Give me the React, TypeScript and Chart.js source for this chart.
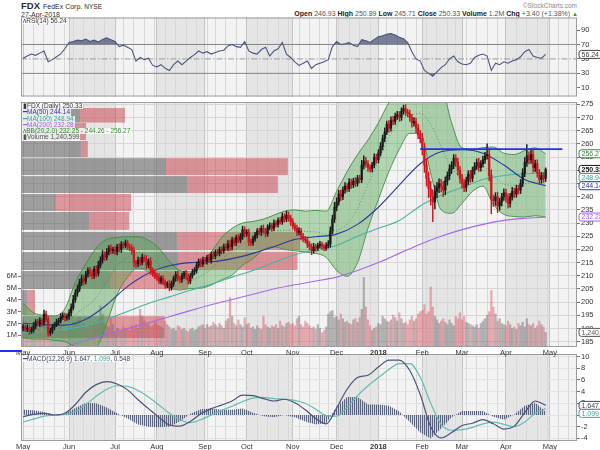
import React, { useEffect, useRef } from 'react';
import { Chart, registerables } from 'chart.js';

Chart.register(...registerables);

const FONT = '"Liberation Sans", Arial, Helvetica, sans-serif';
const AXIS_COLOR = '#333333';

// ---------------- data ----------------
const firstOpen = 190.2;
const closes = [
  // May 2017
  190.5, 189.8, 190.2, 189.0, 189.5, 191.0, 192.5, 191.8, 193.0, 192.0, 195.5, 193.5, 188.5, 189.0, 190.5, 191.5, 192.5, 193.0, 194.5, 195.0, 194.0, 194.5,
  // Jun
  196.0, 198.0, 201.0, 203.5, 205.0, 207.5, 209.0, 208.0, 210.5, 212.0, 211.0, 210.0, 212.5, 211.0, 214.0, 216.0, 218.0, 217.0, 219.0, 220.5, 219.5, 220.0,
  // Jul
  219.0, 221.0, 220.0, 222.0, 221.5, 222.5, 221.0, 220.5, 219.5, 215.0, 214.5, 216.0, 215.0, 217.0, 216.5, 214.0, 215.5, 212.0, 211.0, 210.0,
  // Aug
  209.5, 208.0, 209.0, 207.5, 206.5, 207.0, 205.5, 207.0, 209.0, 210.5, 209.0, 208.5, 210.0, 211.0, 209.5, 208.0, 210.0, 211.5, 212.0, 214.0, 215.5, 214.5, 216.0,
  // Sep
  215.5, 217.0, 216.0, 218.0, 217.5, 219.0, 218.5, 220.0, 219.5, 221.0, 220.5, 222.0, 221.0, 223.5, 222.5, 224.5, 223.5, 225.0, 227.5, 226.0,
  // Oct
  226.5, 223.0, 222.5, 224.0, 225.5, 227.0, 226.5, 228.0, 227.0, 226.0, 228.5, 229.0, 228.0, 230.0, 229.5, 231.0, 230.5, 232.5, 231.5, 233.0, 232.0, 230.5,
  // Nov
  229.0, 228.0, 226.5, 227.0, 225.0, 224.0, 223.5, 222.0, 221.0, 219.5, 221.0, 220.5, 221.5, 222.0, 221.0, 220.5, 221.5, 222.0, 227.0, 231.5, 236.0,
  // Dec
  238.0, 241.0, 240.0, 242.5, 244.0, 243.0, 245.5, 244.5, 246.0, 245.0, 247.0, 246.5, 252.0, 253.5, 252.5, 251.0, 250.5, 252.0, 255.0, 254.0,
  // Jan 2018
  256.5, 259.0, 262.0, 264.5, 267.5, 266.0, 269.0, 268.5, 270.5, 271.0, 270.0, 272.5, 273.5, 272.0, 271.5, 270.0, 268.0, 268.5, 266.0, 263.5, 262.0,
  // Feb
  258.0, 252.0, 247.0, 243.0, 240.0, 238.0, 242.0, 243.5, 245.0, 244.0, 242.5, 246.0, 248.0, 250.5, 252.0, 254.5, 253.0, 250.0, 247.0,
  // Mar
  245.0, 243.5, 246.0, 248.5, 247.0, 250.0, 251.5, 253.0, 251.0, 252.5, 254.0, 255.5, 256.0, 248.0, 239.0, 238.5, 240.0, 236.5, 238.0, 240.0, 241.5,
  // Apr
  239.5, 237.5, 240.0, 242.0, 241.0, 243.0, 242.5, 245.0, 249.0, 253.0, 255.5, 254.0, 256.0, 251.0, 252.5, 249.0, 246.5, 248.0, 246.93, 250.33,
];
const wickUp = [
  1.0, 0.8, 1.2, 0.9, 1.1, 1.3, 0.9, 1.0, 1.2, 0.8, 1.5, 1.1, 0.9, 1.2, 1.0, 0.8, 1.1, 0.9, 1.2, 1.0, 0.9, 1.1,
  1.2, 1.4, 1.6, 1.3, 1.5, 1.2, 1.4, 1.1, 1.3, 1.0, 1.2, 1.4, 1.1, 1.3, 1.5, 1.2, 1.6, 1.1, 1.3, 1.0, 1.2, 0.9,
  1.1, 0.9, 1.2, 1.0, 0.8, 1.1, 0.9, 1.0, 1.2, 1.4, 0.9, 1.1, 1.0, 1.2, 0.8, 1.1, 0.9, 1.3, 1.0, 1.2,
  1.0, 1.2, 0.9, 1.1, 1.0, 0.8, 1.2, 1.0, 0.9, 1.1, 1.3, 0.9, 1.0, 0.8, 1.1, 1.2, 0.9, 1.0, 1.1, 1.2, 0.9, 1.0, 1.1,
  1.0, 0.9, 1.1, 1.0, 1.2, 0.8, 1.0, 0.9, 1.1, 1.0, 1.2, 1.4, 1.6, 1.1, 1.0, 0.9, 1.2, 1.0, 1.3, 1.1,
  1.0, 1.2, 0.9, 1.1, 1.0, 0.9, 1.1, 1.0, 1.3, 1.0, 0.9, 1.1, 1.0, 1.2, 0.9, 1.0, 1.1, 1.3, 1.0, 1.5, 1.2, 1.0,
  1.1, 1.0, 1.2, 1.3, 1.0, 1.1, 0.9, 1.2, 1.0, 1.1, 1.3, 1.0, 0.9, 1.1, 0.8, 1.0, 1.1, 1.4, 1.6, 1.5, 1.8,
  1.6, 1.4, 1.5, 1.2, 1.3, 1.1, 1.4, 1.2, 1.0, 1.3, 1.1, 1.2, 1.8, 2.0, 1.4, 1.2, 1.1, 1.0, 1.2, 1.1,
  1.3, 1.5, 1.4, 1.6, 1.2, 1.4, 1.3, 1.5, 1.2, 1.4, 1.3, 1.2, 1.2, 1.4, 1.1, 1.3, 1.2, 1.5, 1.3, 1.4, 1.6,
  2.0, 2.2, 2.5, 2.4, 2.8, 2.6, 2.2, 1.9, 1.8, 1.6, 1.8, 1.5, 1.4, 1.6, 1.3, 1.5, 1.4, 1.6, 1.5,
  1.5, 1.6, 1.4, 1.3, 1.5, 1.2, 1.4, 1.3, 1.5, 1.2, 1.4, 1.3, 4.0, 1.8, 2.2, 1.6, 1.5, 1.7, 1.4, 1.3, 1.5,
  1.4, 1.6, 1.3, 1.5, 1.2, 1.4, 1.3, 1.5, 1.6, 1.8, 4.3, 1.5, 1.8, 1.6, 1.4, 1.5, 1.3, 1.2, 1.1, 0.6,
];
const wickDown = [
  1.1, 0.9, 1.0, 1.2, 0.8, 1.0, 1.1, 0.9, 1.0, 1.2, 0.8, 1.0, 1.5, 1.1, 0.9, 1.0, 0.8, 1.1, 0.9, 1.0, 1.2, 0.9,
  1.0, 1.2, 0.9, 1.1, 1.3, 1.0, 1.2, 1.4, 1.1, 1.0, 1.3, 1.2, 1.0, 1.4, 1.1, 1.0, 1.2, 1.3, 1.0, 1.1, 1.2, 1.0,
  1.0, 1.1, 0.9, 1.2, 1.0, 0.9, 1.1, 1.0, 1.2, 1.6, 1.3, 1.0, 1.2, 0.9, 1.1, 1.3, 1.0, 1.4, 1.2, 1.1,
  1.2, 1.0, 1.1, 0.9, 1.3, 1.0, 1.2, 0.9, 1.0, 1.1, 0.9, 1.2, 1.0, 1.1, 0.9, 1.2, 1.0, 0.9, 1.1, 1.0, 0.8, 1.1, 0.9,
  1.0, 1.1, 0.9, 1.2, 1.0, 1.1, 0.9, 1.0, 1.2, 0.9, 1.0, 1.1, 1.5, 1.2, 1.0, 1.1, 0.9, 1.0, 1.2, 1.3,
  1.1, 1.6, 1.2, 1.0, 0.9, 1.1, 1.0, 1.2, 0.9, 1.3, 1.0, 1.1, 1.2, 0.9, 1.0, 1.1, 0.9, 1.0, 1.2, 1.0, 1.3, 1.4,
  1.2, 1.1, 1.3, 1.0, 1.4, 1.2, 1.0, 1.3, 1.1, 1.5, 1.0, 1.2, 1.0, 0.9, 1.1, 1.0, 0.9, 1.0, 1.2, 1.1, 1.3,
  1.4, 1.2, 1.5, 1.1, 1.3, 1.2, 1.0, 1.4, 1.1, 1.2, 1.0, 1.3, 1.2, 1.5, 1.3, 1.4, 1.2, 1.1, 1.0, 1.3,
  1.2, 1.1, 1.3, 1.2, 1.0, 1.5, 1.2, 1.3, 1.1, 1.2, 1.4, 1.1, 1.2, 1.3, 1.2, 1.5, 1.6, 1.3, 1.7, 1.5, 1.6,
  2.2, 2.8, 3.0, 3.4, 3.2, 7.5, 2.6, 2.4, 2.0, 2.2, 2.5, 1.8, 1.6, 1.5, 1.7, 1.4, 1.6, 1.8, 1.9,
  1.8, 1.6, 1.5, 1.4, 1.6, 1.3, 1.5, 1.2, 1.4, 1.3, 1.2, 1.4, 1.3, 2.0, 5.5, 2.2, 1.8, 2.5, 1.6, 1.5, 1.4,
  1.6, 1.8, 1.5, 1.3, 1.4, 1.2, 1.5, 1.3, 1.2, 1.4, 1.5, 1.6, 1.4, 1.8, 1.5, 1.6, 1.7, 1.4, 1.5, 1.2,
];
// daily volume, millions of shares
const volumes = [
  2.1, 1.8, 1.5, 1.6, 1.4, 1.7, 1.6, 1.5, 1.9, 1.4, 2.4, 1.8, 2.6, 2.0, 1.7, 1.5, 1.4, 1.6, 1.8, 1.5, 1.3, 1.6,
  1.7, 1.6, 2.2, 1.9, 2.3, 2.5, 1.8, 2.0, 1.7, 1.6, 1.9, 1.8, 2.1, 1.9, 2.3, 3.5, 2.8, 2.0, 1.8, 1.7, 2.4, 1.9,
  1.3, 1.6, 1.5, 1.4, 1.7, 1.5, 1.6, 1.4, 1.8, 1.5, 1.9, 1.6, 3.2, 2.6, 2.2, 1.9, 2.0, 1.7, 1.8, 2.1,
  1.9, 1.8, 1.7, 1.6, 2.2, 1.9, 1.7, 1.5, 1.6, 1.4, 1.8, 1.7, 1.5, 1.6, 1.4, 1.3, 1.5, 1.6, 1.4, 1.5, 1.7, 1.8, 1.9,
  1.6, 1.9, 1.7, 1.8, 2.1, 1.9, 1.7, 2.0, 1.8, 1.6, 2.2, 2.4, 4.2, 2.6, 2.0, 1.8, 2.3, 1.9, 1.7, 2.5,
  1.9, 2.0, 1.6, 1.7, 1.5, 1.8, 1.6, 1.5, 2.6, 1.9, 1.7, 1.6, 1.8, 1.7, 1.9, 1.6, 2.2, 1.8, 1.7, 2.0, 2.1, 1.9,
  2.0, 1.8, 2.4, 2.6, 1.9, 1.7, 2.2, 2.0, 1.8, 1.6, 1.7, 1.5, 1.9, 1.6, 1.2, 1.4, 1.7, 2.8, 3.0, 3.1, 2.5,
  2.6, 2.3, 2.8, 2.4, 2.1, 2.2, 2.0, 1.9, 2.3, 2.4, 2.1, 2.5, 3.2, 5.9, 3.4, 2.3, 1.8, 1.4, 1.6, 1.7,
  2.0, 1.9, 2.6, 2.4, 2.2, 2.1, 2.3, 2.7, 2.5, 2.2, 2.9, 2.4, 2.0, 2.1, 1.9, 2.3, 2.6, 2.2, 2.4, 2.8, 3.0,
  3.1, 3.6, 2.8, 3.0, 5.1, 3.4, 2.6, 2.3, 2.0, 2.2, 2.4, 2.1, 1.9, 2.3, 2.0, 1.8, 2.6, 2.4, 2.9,
  2.3, 2.6, 2.1, 2.0, 1.9, 1.8, 1.7, 1.9, 1.6, 2.0, 2.2, 2.4, 2.7, 3.0, 4.8, 3.4, 2.8, 2.2, 2.4, 2.0, 1.9,
  1.8, 2.2, 1.9, 1.6, 1.7, 1.5, 2.0, 1.8, 2.1, 1.7, 2.4, 1.9, 1.8, 2.0, 1.6, 1.8, 2.2, 1.9, 1.7, 1.24,
];

// moving averages, sampled every 10 trading days
const ma50 = [192.0, 191.5, 191.3, 193.5, 199.0, 206.0, 211.0, 213.8, 215.0, 215.3, 216.5, 218.5, 221.0, 223.8, 224.8, 225.8, 229.5, 236.0, 244.4, 252.5, 257.0, 257.8, 256.5, 252.0, 246.5, 244.14];
const ma100 = [188.5, 189.0, 189.8, 191.0, 193.5, 196.5, 199.5, 202.0, 204.5, 206.8, 209.5, 212.0, 215.0, 218.0, 220.0, 221.5, 225.0, 228.0, 231.0, 236.5, 240.5, 243.5, 246.5, 248.0, 248.7, 248.94];
const ma200 = [179.5, 181.5, 183.0, 185.5, 187.8, 190.0, 192.2, 194.5, 196.8, 199.0, 201.0, 203.0, 205.0, 206.6, 208.0, 209.5, 212.0, 215.0, 218.5, 222.0, 225.0, 227.5, 229.5, 231.0, 231.8, 232.28];

// Bollinger bands (20,2), sampled every 5 trading days
const bbUpper = [199.5, 196, 195, 194.8, 197.5, 207.5, 214.5, 220.5, 223.8, 224.5, 224.8, 224.8, 223.5, 220.5, 215.5, 212, 211.5, 214.5, 219, 224.5, 228, 230, 230.6, 231.5, 233, 234.5, 235, 234.5, 234.8, 234.5, 242, 249.5, 256, 261.5, 268, 275.5, 278.5, 277.5, 279, 286, 283, 268, 258.5, 258, 258.6, 258.8, 256.5, 256, 257.5, 258.5, 256.27];
const bbLower = [186.5, 186, 186, 185.5, 185, 183, 182, 183, 192, 203, 209.5, 213, 211.5, 208, 205.5, 204.6, 205.2, 205.3, 206.5, 208.5, 210.3, 214, 216.5, 220, 221, 220, 219.5, 219, 218.5, 217, 212, 209.8, 215, 228, 239, 249.5, 258, 264, 264, 249, 235, 233.7, 237.5, 242, 244, 237, 233.3, 232.5, 232.3, 232.8, 232.25];

// RSI(14), sampled every 2 trading days
const rsiVals = [
  51, 54, 56.7, 55, 58, 61, 46, 49, 53, 57,
  64, 72.7, 74, 76, 75, 77.5, 74, 76, 73.5, 77,
  79, 76.5, 74, 67, 69, 66, 63, 47, 52, 49,
  51, 41, 39, 42, 37, 34, 42, 47, 42, 47,
  52, 56, 61, 58, 60, 56.7, 59, 61, 62, 68,
  70, 67, 66, 74, 61, 58, 56.7, 63, 66, 54,
  61, 64, 72.7, 56.7, 52, 46, 41, 44, 47, 36.7,
  42, 44, 46, 49, 67, 74, 70, 71, 72.7, 69,
  67, 76.7, 75, 72.7, 77, 80.7, 82, 84, 85, 83,
  80, 78, 72.7, 60, 50, 47, 34, 30, 26, 32,
  38, 42, 50, 54, 46, 43, 42, 44, 52, 55,
  56.7, 54, 34, 44, 42, 46, 44, 47, 49, 53,
  60, 63, 54, 52, 51, 56.24,
];

// MACD(12,26,9), sampled every 5 trading days
const macdVals = [-0.3, 0.1, 0.3, 0.0, 0.3, 1.8, 3.9, 5.2, 5.7, 5.3, 4.3, 2.6, 1.1, -0.4, -1.7, -1.9, -1.1, 0.2, 1.1, 1.7, 2.4, 3.4, 3.3, 2.8, 2.4, 2.7, 2.1, 0.9, -0.6, -1.5, 1.2, 4.4, 6.4, 6.8, 8.2, 9.4, 9.4, 7.6, 3.5, -2.0, -3.9, -3.0, -1.8, -1.4, -0.8, -1.5, -2.4, -1.9, 0.4, 2.4, 1.647];
const signalVals = [-1.2, -0.7, -0.2, 0.0, 0.1, 0.6, 1.8, 3.2, 4.4, 5.0, 4.9, 4.2, 3.1, 1.7, 0.3, -0.8, -1.3, -0.8, 0.0, 0.8, 1.5, 2.3, 2.9, 3.0, 2.8, 2.7, 2.5, 2.0, 1.0, -0.1, -0.2, 1.3, 3.3, 5.0, 6.4, 7.8, 8.8, 8.8, 6.5, 2.0, -1.6, -2.6, -2.5, -2.1, -1.5, -1.2, -1.6, -2.0, -1.2, 0.3, 1.099];

// volume-by-price zones (price range, up / down volume in millions)
const vbpLow = [268.1, 261.5, 255.0, 248.2, 241.4, 234.6, 227.4, 219.8, 212.2, 205.0, 195.1, 186.4];
const vbpHigh = [273.6, 267.9, 261.1, 254.6, 247.8, 241.0, 234.2, 226.6, 219.0, 211.8, 204.6, 194.7];
const vbpUp = [13.5, 12.6, 13.7, 33.2, 38.0, 8.0, 15.6, 35.7, 36.0, 20.4, 1.4, 19.2];
const vbpDown = [10.3, 2.3, 1.6, 27.9, 20.8, 17.2, 9.2, 28.2, 27.3, 17.9, 1.8, 13.7];
const VBP_MAX = 127.3;

const resistanceLevel = 258.0;
const resistanceFrom = 190;
const resistanceTo = 258;

const monthLabels = ['May', 'Jun', 'Jul', 'Aug', 'Sep', 'Oct', 'Nov', 'Dec', '2018', 'Feb', 'Mar', 'Apr', 'May'];
const priceTicks = [185, 190, 195, 200, 205, 210, 215, 220, 225, 230, 235, 240, 245, 250, 255, 260, 265, 270, 275];
const volTicks = [1, 2, 3, 4, 5, 6];
const rsiTicks = [10, 30, 50, 70, 90];
const macdTicks = [-4, -2, 0, 2, 4, 6, 8, 10];
const holidays = ['2017-05-29', '2017-07-04', '2017-09-04', '2017-11-23', '2017-12-25', '2018-01-01', '2018-01-15', '2018-02-19', '2018-03-30', '2018-05-28'];

// ---------------- derived structure ----------------
const X_MIN = -1;
const X_MAX = 265;
const P_MIN = 183.0;
const P_MAX = 275.9;

function buildCalendar(): Date[] {
  const hol = new Set(holidays);
  const out: Date[] = [];
  for (let t = Date.UTC(2017, 4, 1); t <= Date.UTC(2018, 5, 30); t += 86400000) {
    const d = new Date(t);
    const wd = d.getUTCDay();
    if (wd === 0 || wd === 6) continue;
    if (hol.has(d.toISOString().slice(0, 10))) continue;
    out.push(d);
  }
  return out;
}
const calendar = buildCalendar();
const monthStarts: number[] = [];
const weekStarts: number[] = [];
calendar.forEach((d, i) => {
  if (i === 0 || d.getUTCMonth() !== calendar[i - 1].getUTCMonth()) monthStarts.push(i);
  if (i === 0 || d.getUTCDay() < calendar[i - 1].getUTCDay()) weekStarts.push(i);
});

const opens = closes.map((c, i) => (i === 0 ? firstOpen : closes[i - 1]));
const highs = closes.map((c, i) => Math.max(opens[i], c) + wickUp[i]);
const lows = closes.map((c, i) => Math.min(opens[i], c) - wickDown[i]);
const upDay = closes.map((c, i) => c >= opens[i]);

const sampled = (vals: number[], step: number) => vals.map((v, k) => ({ x: k * step, y: v }));

type Badge = { axis: string; value: number; text: string; color: string; bold?: boolean };

function makeBgPlugin(id: string) {
  return {
    id,
    beforeDraw(chart: any) {
      const { ctx, chartArea: a, scales } = chart;
      const x = scales.x;
      ctx.save();
      ctx.fillStyle = '#f3f3f3';
      ctx.fillRect(a.left, a.top, a.width, a.height);
      ctx.fillStyle = '#e5e5e5';
      for (let k = 1; k < monthStarts.length - 1; k += 2) {
        const x0 = Math.max(a.left, x.getPixelForValue(monthStarts[k]));
        const x1 = Math.min(a.right, x.getPixelForValue(monthStarts[k + 1]));
        if (x1 > x0) ctx.fillRect(x0, a.top, x1 - x0, a.height);
      }
      ctx.restore();
    },
    afterDatasetsDraw(chart: any) {
      const { ctx, chartArea: a } = chart;
      ctx.save();
      ctx.strokeStyle = '#9c9c9c';
      ctx.lineWidth = 1;
      ctx.strokeRect(a.left + 0.5, a.top + 0.5, a.width - 1, a.height - 1);
      ctx.restore();
    },
  };
}

function makeBadgePlugin(id: string, items: Badge[]) {
  return {
    id,
    afterDraw(chart: any) {
      const { ctx, chartArea: a } = chart;
      const h = 8;
      const placed = items
        .map((it) => ({ ...it, y: chart.scales[it.axis].getPixelForValue(it.value) }))
        .sort((p, q) => p.y - q.y);
      for (let k = 1; k < placed.length; k++) {
        if (placed[k].y < placed[k - 1].y + h) placed[k].y = placed[k - 1].y + h;
      }
      ctx.save();
      placed.forEach((p) => {
        ctx.font = `${p.bold ? 'bold ' : ''}7px ${FONT}`;
        const w = ctx.measureText(p.text).width + 5;
        const x = a.right + 2;
        const y = p.y - h / 2;
        ctx.beginPath();
        const r = 2.5;
        ctx.moveTo(x + r, y);
        ctx.lineTo(x + w - r, y);
        ctx.quadraticCurveTo(x + w, y, x + w, y + r);
        ctx.lineTo(x + w, y + h - r);
        ctx.quadraticCurveTo(x + w, y + h, x + w - r, y + h);
        ctx.lineTo(x + r, y + h);
        ctx.quadraticCurveTo(x, y + h, x, y + h - r);
        ctx.lineTo(x, y + r);
        ctx.quadraticCurveTo(x, y, x + r, y);
        ctx.closePath();
        ctx.fillStyle = '#ffffff';
        ctx.fill();
        ctx.strokeStyle = p.color;
        ctx.lineWidth = 1;
        ctx.stroke();
        ctx.fillStyle = p.color;
        ctx.textBaseline = 'middle';
        ctx.textAlign = 'left';
        ctx.fillText(p.text, x + 2.5, p.y + 0.5);
      });
      ctx.restore();
    },
  };
}

const vbpPlugin = {
  id: 'vbp',
  beforeDatasetsDraw(chart: any) {
    const { ctx, scales } = chart;
    const y = scales.y;
    const xv = scales.xv;
    ctx.save();
    for (let k = 0; k < vbpLow.length; k++) {
      const top = y.getPixelForValue(vbpHigh[k]);
      const bot = y.getPixelForValue(vbpLow[k]);
      const x0 = xv.getPixelForValue(0);
      const xg = xv.getPixelForValue(vbpUp[k]);
      const xr = xv.getPixelForValue(vbpUp[k] + vbpDown[k]);
      ctx.fillStyle = 'rgba(105,105,105,0.62)';
      ctx.fillRect(x0, top, xg - x0, bot - top);
      ctx.fillStyle = 'rgba(200,60,72,0.5)';
      ctx.fillRect(xg, top, xr - xg, bot - top);
    }
    ctx.restore();
  },
};

function xAxes(showLabels: boolean, labelHeight: number) {
  return {
    x: {
      type: 'linear',
      min: X_MIN,
      max: X_MAX,
      offset: false,
      position: 'bottom',
      afterBuildTicks: (s: any) => {
        s.ticks = monthStarts.filter((v) => v <= X_MAX).map((v) => ({ value: v }));
      },
      afterFit: (s: any) => {
        s.height = labelHeight;
      },
      grid: { color: '#c4c4c4', lineWidth: 1, drawTicks: false, offset: false },
      border: { display: false },
      ticks: {
        display: showLabels,
        autoSkip: false,
        maxRotation: 0,
        minRotation: 0,
        padding: 1,
        color: AXIS_COLOR,
        font: (c: any) => ({ family: FONT, size: 7.5, weight: c.index === 8 ? 'bold' : 'normal' }),
        callback: (_v: any, i: number) => monthLabels[i] ?? '',
      },
    },
    xw: {
      type: 'linear',
      min: X_MIN,
      max: X_MAX,
      offset: false,
      position: 'bottom',
      afterBuildTicks: (s: any) => {
        s.ticks = weekStarts.filter((v) => v <= X_MAX).map((v) => ({ value: v }));
      },
      afterFit: (s: any) => {
        s.height = 0;
      },
      grid: { color: '#d8d8d8', lineWidth: 1, drawTicks: false, offset: false, z: -2 },
      border: { display: false },
      ticks: { display: false },
    },
  };
}

const rightTicks = { color: AXIS_COLOR, font: { family: FONT, size: 7.5 }, padding: 1 };

export default function App() {
  const rsiRef = useRef<HTMLCanvasElement>(null);
  const priceRef = useRef<HTMLCanvasElement>(null);
  const macdRef = useRef<HTMLCanvasElement>(null);

  useEffect(() => {
    const charts: Chart[] = [];
    const line = (data: any[], color: string, width: number, extra: any = {}) => ({
      type: 'line',
      data,
      borderColor: color,
      borderWidth: width,
      pointRadius: 0,
      fill: false,
      xAxisID: 'x',
      ...extra,
    });

    // ---------- RSI ----------
    const rsiData = sampled(rsiVals, 2);
    const shade = 'rgba(72,82,118,0.72)';
    charts.push(
      new Chart(rsiRef.current as HTMLCanvasElement, {
        type: 'line',
        data: {
          datasets: [
            line(rsiData, '#4a5680', 1.1, { order: 0, yAxisID: 'y', fill: { target: { value: 70 }, above: shade, below: 'rgba(0,0,0,0)' } }),
            line(rsiData, 'rgba(0,0,0,0)', 0, { order: 1, yAxisID: 'y', fill: { target: { value: 30 }, above: 'rgba(0,0,0,0)', below: shade } }),
            line([{ x: X_MIN, y: 70 }, { x: X_MAX, y: 70 }], '#8f8f8f', 1, { order: 2, yAxisID: 'y' }),
            line([{ x: X_MIN, y: 30 }, { x: X_MAX, y: 30 }], '#8f8f8f', 1, { order: 2, yAxisID: 'y' }),
            line([{ x: X_MIN, y: 50 }, { x: X_MAX, y: 50 }], '#9a9a9a', 1, { order: 2, yAxisID: 'y', borderDash: [6, 2, 1.5, 2] }),
          ] as any,
        },
        options: {
          responsive: false,
          animation: false,
          devicePixelRatio: 1,
          events: [],
          layout: { padding: { top: 5, bottom: 3, left: 21, right: 0 } },
          plugins: { legend: { display: false }, tooltip: { enabled: false } },
          scales: {
            ...xAxes(false, 0),
            y: {
              type: 'linear',
              position: 'right',
              min: -2,
              max: 107.3,
              afterBuildTicks: (s: any) => {
                s.ticks = rsiTicks.map((v) => ({ value: v }));
              },
              afterFit: (s: any) => {
                s.width = 23;
              },
              grid: { drawOnChartArea: false, tickColor: '#777', tickLength: 3 },
              border: { display: false },
              ticks: rightTicks,
            },
          } as any,
        },
        plugins: [makeBgPlugin('bgRsi'), makeBadgePlugin('badgeRsi', [{ axis: 'y', value: 56.24, text: '56.24', color: '#444' }])],
      } as any)
    );

    // ---------- Price ----------
    const candleColors = upDay.map((u) => (u ? '#1a1a1a' : '#d2141e'));
    const volColors = upDay.map((u) => (u ? 'rgba(115,115,115,0.5)' : 'rgba(215,70,85,0.42)'));
    const bbU = sampled(bbUpper, 5);
    const bbL = sampled(bbLower, 5);
    const bbM = bbUpper.map((u, k) => ({ x: k * 5, y: (u + bbLower[k]) / 2 }));
    charts.push(
      new Chart(priceRef.current as HTMLCanvasElement, {
        type: 'bar',
        data: {
          datasets: [
            line([{ x: resistanceFrom, y: resistanceLevel }, { x: resistanceTo, y: resistanceLevel }], '#1e32f0', 1.8, { order: 0, yAxisID: 'y' }),
            {
              type: 'bar',
              data: closes.map((c, i) => ({ x: i, y: [opens[i], c] })),
              backgroundColor: candleColors,
              barThickness: 1.6,
              minBarLength: 1,
              grouped: false,
              order: 1,
              xAxisID: 'x',
              yAxisID: 'y',
            },
            {
              type: 'bar',
              data: closes.map((c, i) => ({ x: i, y: [lows[i], highs[i]] })),
              backgroundColor: candleColors,
              barThickness: 0.8,
              grouped: false,
              order: 2,
              xAxisID: 'x',
              yAxisID: 'y',
            },
            line(sampled(ma50, 10), '#2c3c9c', 1.1, { order: 3, yAxisID: 'y', cubicInterpolationMode: 'monotone' }),
            line(sampled(ma100, 10), '#46b4a4', 1.1, { order: 3, yAxisID: 'y', cubicInterpolationMode: 'monotone' }),
            line(sampled(ma200, 10), '#a868e6', 1.1, { order: 3, yAxisID: 'y', cubicInterpolationMode: 'monotone' }),
            line(bbM, 'rgba(40,110,40,0.7)', 0.8, { order: 4, yAxisID: 'y', borderDash: [1, 2], cubicInterpolationMode: 'monotone' }),
            line(bbU, '#3b8c3b', 0.9, { order: 5, yAxisID: 'y', fill: '+1', backgroundColor: 'rgba(70,165,70,0.38)', cubicInterpolationMode: 'monotone' }),
            line(bbL, '#3b8c3b', 0.9, { order: 5, yAxisID: 'y', cubicInterpolationMode: 'monotone' }),
            {
              type: 'bar',
              data: volumes.map((v, i) => ({ x: i, y: v })),
              backgroundColor: volColors,
              barThickness: 1.6,
              grouped: false,
              order: 6,
              xAxisID: 'x',
              yAxisID: 'yv',
            },
          ] as any,
        },
        options: {
          responsive: false,
          animation: false,
          devicePixelRatio: 1,
          events: [],
          layout: { padding: { top: 6, bottom: 0, left: 0, right: 0 } },
          plugins: { legend: { display: false }, tooltip: { enabled: false } },
          scales: {
            ...xAxes(true, 10),
            xv: {
              type: 'linear',
              display: true,
              offset: false,
              position: 'bottom',
              min: 0,
              max: VBP_MAX,
              afterFit: (s: any) => {
                s.height = 0;
              },
              grid: { display: false, offset: false },
              border: { display: false },
              ticks: { display: false },
            },
            y: {
              type: 'linear',
              position: 'right',
              min: P_MIN,
              max: P_MAX,
              afterBuildTicks: (s: any) => {
                s.ticks = priceTicks.map((v) => ({ value: v }));
              },
              afterFit: (s: any) => {
                s.width = 23;
              },
              grid: { color: '#d6d6d6', tickColor: '#777', tickLength: 3 },
              border: { display: false },
              ticks: rightTicks,
            },
            yv: {
              type: 'linear',
              position: 'left',
              min: 0,
              max: 20.8,
              afterBuildTicks: (s: any) => {
                s.ticks = volTicks.map((v) => ({ value: v }));
              },
              afterFit: (s: any) => {
                s.width = 21;
              },
              grid: { drawOnChartArea: false, tickColor: '#777', tickLength: 3 },
              border: { display: false },
              ticks: { ...rightTicks, callback: (v: any) => v + 'M' },
            },
          } as any,
        },
        plugins: [
          makeBgPlugin('bgPrice'),
          vbpPlugin,
          makeBadgePlugin('badgePrice', [
            { axis: 'y', value: 256.27, text: '256.27', color: '#2f8a2f' },
            { axis: 'y', value: 250.33, text: '250.33', color: '#111', bold: true },
            { axis: 'y', value: 248.94, text: '248.94', color: '#3aa898' },
            { axis: 'y', value: 244.14, text: '244.14', color: '#2c3c9c' },
            { axis: 'y', value: 232.28, text: '232.28', color: '#a060e0' },
          ]),
          makeBadgePlugin('badgeVol', [{ axis: 'yv', value: 1.24, text: '1,240,599', color: '#555' }]),
        ],
      } as any)
    );

    // ---------- MACD ----------
    const mctx = (macdRef.current as HTMLCanvasElement).getContext('2d') as CanvasRenderingContext2D;
    const pc = document.createElement('canvas');
    pc.width = 2;
    pc.height = 1;
    const pctx = pc.getContext('2d') as CanvasRenderingContext2D;
    pctx.fillStyle = 'rgba(58,66,98,0.8)';
    pctx.fillRect(0, 0, 1, 1);
    pctx.fillStyle = 'rgba(58,66,98,0.12)';
    pctx.fillRect(1, 0, 1, 1);
    const stripe = mctx.createPattern(pc, 'repeat');
    const hist = macdVals.map((m, k) => ({ x: k * 5, y: m - signalVals[k] }));
    charts.push(
      new Chart(macdRef.current as HTMLCanvasElement, {
        type: 'line',
        data: {
          datasets: [
            line(sampled(macdVals, 5), '#4a5478', 1.2, { order: 0, yAxisID: 'y', cubicInterpolationMode: 'monotone' }),
            line(sampled(signalVals, 5), '#62bdb3', 1.2, { order: 1, yAxisID: 'y', cubicInterpolationMode: 'monotone' }),
            line(hist, 'rgba(0,0,0,0)', 0, { order: 2, yAxisID: 'y', fill: 'origin', backgroundColor: stripe }),
          ] as any,
        },
        options: {
          responsive: false,
          animation: false,
          devicePixelRatio: 1,
          events: [],
          layout: { padding: { top: 6, bottom: 0, left: 21, right: 0 } },
          plugins: { legend: { display: false }, tooltip: { enabled: false } },
          scales: {
            ...xAxes(true, 9),
            y: {
              type: 'linear',
              position: 'right',
              min: -4.44,
              max: 10.43,
              afterBuildTicks: (s: any) => {
                s.ticks = macdTicks.map((v) => ({ value: v }));
              },
              afterFit: (s: any) => {
                s.width = 23;
              },
              grid: { color: '#e2e2e2', tickColor: '#777', tickLength: 3 },
              border: { display: false },
              ticks: rightTicks,
            },
          } as any,
        },
        plugins: [
          makeBgPlugin('bgMacd'),
          makeBadgePlugin('badgeMacd', [
            { axis: 'y', value: 1.647, text: '1.647', color: '#3e4668' },
            { axis: 'y', value: 1.099, text: '1.099', color: '#3aa898' },
          ]),
        ],
      } as any)
    );

    return () => charts.forEach((c) => c.destroy());
  }, []);

  const small: React.CSSProperties = { fontFamily: FONT, fontSize: 6.5, lineHeight: '6.3px', whiteSpace: 'nowrap' };
  const tag = (color: string): React.CSSProperties => ({ ...small, color, background: 'rgba(255,255,255,0.78)', display: 'inline-block', padding: '0 1px' });
  const bold: React.CSSProperties = { color: '#222', fontWeight: 'bold' };

  return (
    <div style={{ position: 'absolute', left: 0, top: 0, width: 600, height: 450, background: '#fff', overflow: 'hidden', fontFamily: FONT }}>
      {/* header */}
      <div style={{ position: 'absolute', left: 21, top: 1, whiteSpace: 'nowrap', color: '#2b2b2b', fontSize: 9.5, lineHeight: '10px' }}>
        <span style={{ fontWeight: 'bold', fontSize: 9.5 }}>FDX</span>
        <span style={{ fontSize: 7, marginLeft: 3 }}>FedEx Corp.</span>
        <span style={{ fontSize: 6.5, marginLeft: 2 }}>NYSE</span>
      </div>
      <div style={{ position: 'absolute', left: 21, top: 10.5, fontSize: 7, lineHeight: '7px', color: '#333', whiteSpace: 'nowrap' }}>27-Apr-2018</div>
      <div style={{ position: 'absolute', right: 23, top: 2, fontSize: 6.5, lineHeight: '7px', color: '#8a8a8a', whiteSpace: 'nowrap' }}>©StockCharts.com</div>
      <div style={{ position: 'absolute', right: 22, top: 10, fontSize: 7, lineHeight: '7px', color: '#555', whiteSpace: 'nowrap' }}>
        <span style={bold}>Open</span> 246.93 <span style={bold}>High</span> 250.89 <span style={bold}>Low</span> 245.71{' '}
        <span style={bold}>Close</span> 250.33 <span style={bold}>Volume</span> 1.2M <span style={bold}>Chg</span> +3.40 (+1.38%){' '}
        <span style={{ color: '#2a9a2a', fontSize: 6 }}>▲</span>
      </div>

      <canvas ref={rsiRef} width={600} height={90} style={{ position: 'absolute', left: 0, top: 12, width: 600, height: 90 }} />
      <canvas ref={macdRef} width={600} height={102} style={{ position: 'absolute', left: 0, top: 348, width: 600, height: 102 }} />
      <canvas ref={priceRef} width={600} height={261} style={{ position: 'absolute', left: 0, top: 96, width: 600, height: 261 }} />

      {/* panel legends */}
      <div style={{ position: 'absolute', left: 22, top: 18, fontSize: 6.5, lineHeight: '6.3px' }}>
        <span style={tag('#3a3a3a')}>ʌRSI(14) 56.24</span>
      </div>
      <div style={{ position: 'absolute', left: 22, top: 103, fontSize: 6.5, display: 'flex', flexDirection: 'column', alignItems: 'flex-start' }}>
        <span style={tag('#333')}>▮FDX (Daily) 250.33</span>
        <span style={tag('#2c3c9c')}>━MA(50) 244.14</span>
        <span style={tag('#3aa898')}>━MA(100) 248.94</span>
        <span style={tag('#a060e0')}>━MA(200) 232.28</span>
        <span style={tag('#2f8a2f')}>ʌBB(20,2.0) 232.25 - 244.26 - 256.27</span>
        <span style={tag('#555')}>▮Volume 1,240,599</span>
      </div>
      <div style={{ position: 'absolute', left: 22, top: 355.5, fontSize: 6.5, lineHeight: '6.3px' }}>
        <span style={tag('#3e4668')}>
          ━MACD(12,26,9) 1.647, <span style={{ color: '#3aa898' }}>1.099</span>, 0.548
        </span>
      </div>
      <div style={{ position: 'absolute', left: 0, top: 350, width: 22, height: 1.5, background: '#1e32f0' }} />
    </div>
  );
}
